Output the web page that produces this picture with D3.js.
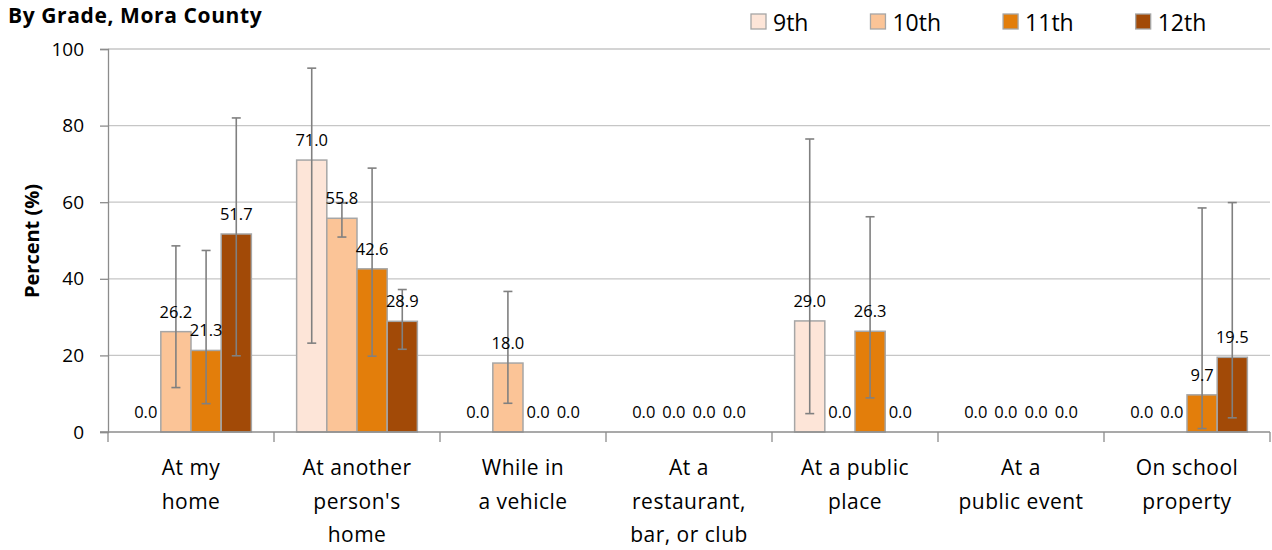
<!DOCTYPE html>
<html>
<head>
<meta charset="utf-8">
<script src="https://cdn.jsdelivr.net/npm/d3@7"></script>
<style>
  body { margin: 0; background: #fff; }
  svg text { font-family: "Open Sans", Carlito, Calibri, sans-serif; fill: #000; }
</style>
</head>
<body>
<svg id="chart"></svg>
<script>
// категории (подписи оси X, по строкам)
let categories = [
    ["At my", "home"],
    ["At another", "person's", "home"],
    ["While in", "a vehicle"],
    ["At a", "restaurant,", "bar, or club"],
    ["At a public", "place"],
    ["At a", "public event"],
    ["On school", "property"]
];
let grades = ["9th", "10th", "11th", "12th"];
let colors = ["#FDE5D8", "#FBC497", "#E37E0B", "#A24A07"];

// значения по классам
let val9  = [0.0, 71.0, 0.0, 0.0, 29.0, 0.0, 0.0];
let val10 = [26.2, 55.8, 18.0, 0.0, 0.0, 0.0, 0.0];
let val11 = [21.3, 42.6, 0.0, 0.0, 26.3, 0.0, 9.7];
let val12 = [51.7, 28.9, 0.0, 0.0, 0.0, 0.0, 19.5];

// доверительные интервалы (null - нет)
let low9  = [null, 23.2, null, null, 4.8, null, null];
let high9 = [null, 95.0, null, null, 76.5, null, null];
let low10  = [11.6, 50.9, 7.5, null, null, null, null];
let high10 = [48.6, 59.8, 36.7, null, null, null, null];
let low11  = [7.4, 19.8, null, null, 8.9, null, 0.9];
let high11 = [47.4, 68.9, null, null, 56.2, null, 58.5];
let low12  = [19.9, 21.6, null, null, null, null, 3.7];
let high12 = [82.0, 37.2, null, null, null, null, 59.9];

let yTicks = [0, 20, 40, 60, 80, 100];

let series = [
    {values: val9, low: low9, high: high9},
    {values: val10, low: low10, high: high10},
    {values: val11, low: low11, high: high11},
    {values: val12, low: low12, high: high12}
];

let width = 1272, height = 550;
let plotLeft = 108, plotRight = 1270, plotTop = 49, plotBottom = 432;

let svg = d3.select("#chart").attr("width", width).attr("height", height);

let scaleX = d3.scaleBand()
    .domain(d3.range(categories.length))
    .range([plotLeft, plotRight]);
let scaleInner = d3.scaleBand()
    .domain(d3.range(grades.length))
    .range([0, scaleX.bandwidth()])
    .paddingOuter(0.75)
    .paddingInner(0);
let scaleY = d3.scaleLinear().domain([0, 100]).range([plotBottom, plotTop]);

// сетка
svg.append("g")
    .selectAll("line")
    .data(yTicks.filter(d => d > 0))
    .enter()
    .append("line")
    .attr("x1", plotLeft).attr("x2", plotRight)
    .attr("y1", d => scaleY(d)).attr("y2", d => scaleY(d))
    .attr("stroke", "#C6C6C6").attr("stroke-width", 1.3);

// ось Y
let axisY = d3.axisLeft(scaleY).tickValues(yTicks).tickSize(8).tickPadding(16);
let gy = svg.append("g")
    .attr("transform", `translate(${plotLeft}, 0)`)
    .call(axisY);
gy.select(".domain").attr("stroke", "#8C8C8C").attr("stroke-width", 1.3);
gy.selectAll(".tick line").attr("stroke", "#8C8C8C").attr("stroke-width", 1.3);
gy.selectAll(".tick text").attr("font-size", 19).attr("fill", "#000")
    .style("font-family", "'Open Sans', sans-serif");

// подпись оси Y
svg.append("text")
    .attr("transform", `translate(39, 241) rotate(-90)`)
    .attr("text-anchor", "middle")
    .attr("font-size", 20)
    .attr("font-weight", "bold")
    .text("Percent (%)");

// столбики
series.forEach(function(s, gi) {
    let g = svg.append("g");
    g.selectAll("rect")
        .data(s.values)
        .enter()
        .append("rect")
        .attr("x", (d, i) => scaleX(i) + scaleInner(gi))
        .attr("width", scaleInner.bandwidth())
        .attr("y", d => scaleY(d))
        .attr("height", d => plotBottom - scaleY(d))
        .attr("fill", colors[gi])
        .attr("stroke", "#A6A6A6")
        .attr("stroke-width", 1.5);
});

// ось X
svg.append("line")
    .attr("x1", plotLeft - 8).attr("x2", plotRight)
    .attr("y1", plotBottom).attr("y2", plotBottom)
    .attr("stroke", "#8C8C8C").attr("stroke-width", 1.3);
svg.append("g")
    .selectAll("line")
    .data(d3.range(categories.length + 1))
    .enter()
    .append("line")
    .attr("x1", d => plotLeft + d * scaleX.step())
    .attr("x2", d => plotLeft + d * scaleX.step())
    .attr("y1", plotBottom).attr("y2", plotBottom + 10)
    .attr("stroke", "#8C8C8C").attr("stroke-width", 1.3);

// планки погрешностей
series.forEach(function(s, gi) {
    let g = svg.append("g").attr("stroke", "#808080").attr("stroke-width", 1.6);
    s.values.forEach(function(v, i) {
        if (s.low[i] === null) return;
        let cx = scaleX(i) + scaleInner(gi) + scaleInner.bandwidth() / 2;
        let y1 = scaleY(s.low[i]), y2 = scaleY(s.high[i]);
        g.append("line").attr("x1", cx).attr("x2", cx).attr("y1", y1).attr("y2", y2);
        g.append("line").attr("x1", cx - 4.5).attr("x2", cx + 4.5).attr("y1", y1).attr("y2", y1);
        g.append("line").attr("x1", cx - 4.5).attr("x2", cx + 4.5).attr("y1", y2).attr("y2", y2);
    });
});

// подписи значений
series.forEach(function(s, gi) {
    svg.append("g")
        .selectAll("text")
        .data(s.values)
        .enter()
        .append("text")
        .attr("x", (d, i) => scaleX(i) + scaleInner(gi) + scaleInner.bandwidth() / 2)
        .attr("y", d => scaleY(d) - 14)
        .attr("text-anchor", "middle")
        .attr("font-size", 16.5)
        .text(d => d.toFixed(1));
});

// подписи категорий
let gx = svg.append("g");
categories.forEach(function(lines, i) {
    let t = gx.append("text")
        .attr("text-anchor", "middle")
        .attr("font-size", 21)
        .attr("letter-spacing", 0.5);
    lines.forEach(function(line, li) {
        t.append("tspan")
            .attr("x", scaleX(i) + scaleX.bandwidth() / 2)
            .attr("y", 475 + li * 33.5)
            .text(line);
    });
});

// заголовок
svg.append("text")
    .attr("x", 8).attr("y", 23)
    .attr("font-size", 21)
    .attr("font-weight", "bold")
    .attr("letter-spacing", 0.6)
    .text("By Grade, Mora County");

// легенда: ширина элемента зависит от длины подписи
let legX = 751;
grades.forEach(function(d, i) {
    let g = svg.append("g").attr("transform", `translate(${legX}, 14)`);
    g.append("rect")
        .attr("width", 15).attr("height", 15)
        .attr("fill", colors[i])
        .attr("stroke", "#A6A6A6").attr("stroke-width", 1.3);
    let t = g.append("text")
        .attr("x", 22).attr("y", 17)
        .attr("font-size", 23)
        .text(d);
    legX += 22 + t.node().getComputedTextLength() + 62;
});
</script>
</body>
</html>
